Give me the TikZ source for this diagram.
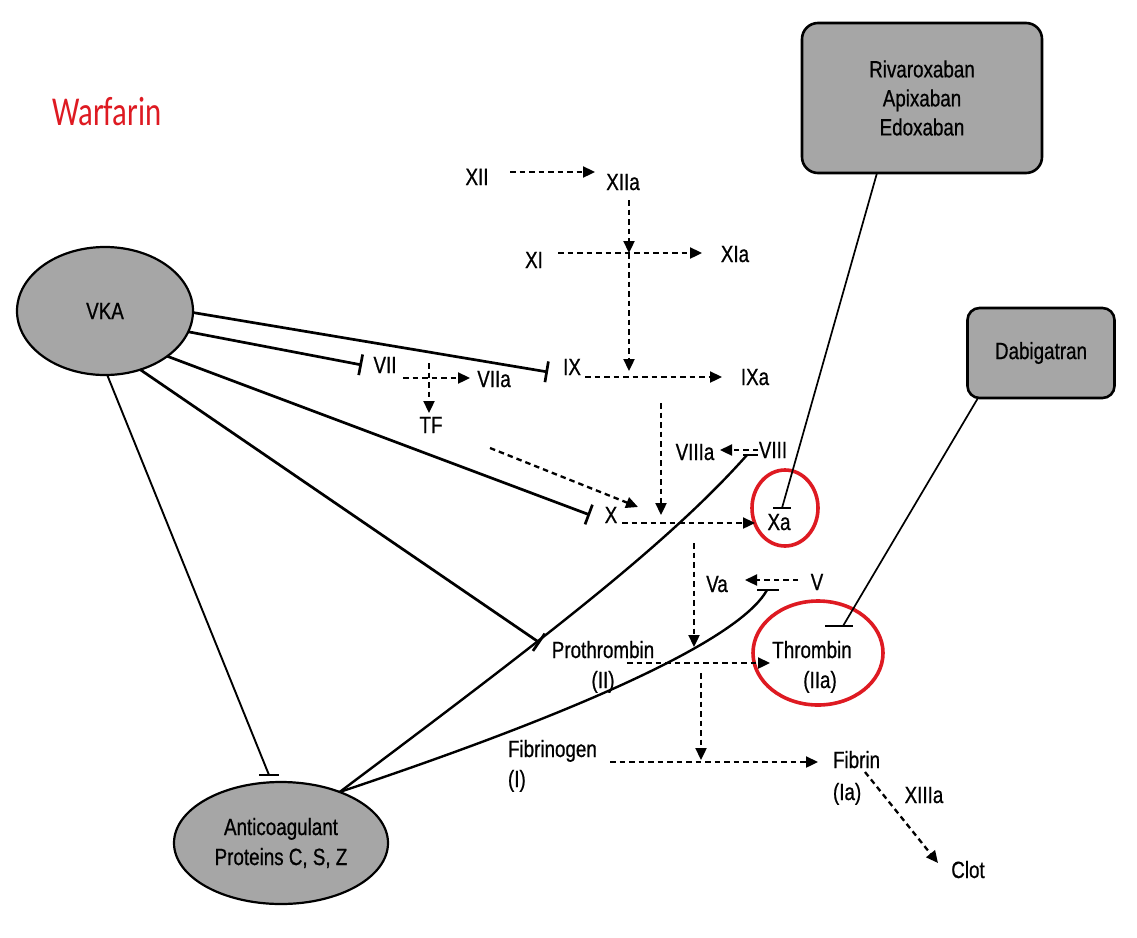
\documentclass[tikz,border=0pt]{standalone}
\usepackage{fontspec}
\setmainfont[FakeStretch=0.8,FakeBold=0.7]{Liberation Sans}
\newfontfamily\warffont[FakeStretch=0.75]{Carlito}
\usetikzlibrary{arrows.meta,shapes.geometric,calc}
\definecolor{shade}{RGB}{166,166,166}
\definecolor{alert}{RGB}{222,26,34}

\begin{document}
\begin{tikzpicture}[x=1pt,y=-1pt,
  every node/.style={inner sep=0pt, outer sep=0pt},
  lbl/.style={font=\fontsize{23.5}{29}\selectfont, anchor=base},
  lblw/.style={font=\fontsize{23.5}{29}\selectfont, anchor=base west},
  drug/.style={draw, line width=2.6pt, fill=shade, rounded corners=16pt, align=center, font=\fontsize{23.5}{29}\selectfont},
  agent/.style={ellipse, draw, line width=2.2pt, fill=shade, align=center, font=\fontsize{23.5}{30}\selectfont},
  ring/.style={ellipse, draw=alert, line width=3.6pt},
  flow/.style={line width=2.3pt, dash pattern=on 5.5pt off 4pt, -{Triangle[length=12pt,width=11pt]}},
  inhib/.style={line width=2.7pt, -{Bar[width=21pt]}},
  link/.style={line width=2.4pt},
  thinlink/.style={line width=1.7pt}
]
\useasboundingbox (0,0) rectangle (1137,937);
\fill[white] (0,0) rectangle (1137,937);

% title
\node[font=\warffont\fontsize{41}{41}\selectfont, text=alert, anchor=base west] (warf) at (52,125) {Warfarin};

% drugs and agents
\node[drug, minimum width=240pt, minimum height=150pt] (riva) at (922,98) {Rivaroxaban\\Apixaban\\Edoxaban};
\node[drug, rounded corners=12pt, minimum width=147pt, minimum height=90pt] (dabi) at (1041,353) {Dabigatran};
\node[agent, minimum width=176pt, minimum height=128pt] (vka) at (105,311) {VKA};
\node[agent, minimum width=214pt, minimum height=122pt] (anti) at (281,843) {Anticoagulant\\Proteins C, S, Z};

% highlighted targets
\node[ring, minimum width=66pt, minimum height=76pt] (xaring) at (785,508) {};
\node[ring, minimum width=130pt, minimum height=104pt] (thrring) at (818,653) {};

% coagulation factors
\node[lbl] (xii) at (477,185) {XII};
\node[lbl] (xiia) at (623,190) {XIIa};
\node[lbl] (xi) at (534,268) {XI};
\node[lbl] (xia) at (735,262) {XIa};
\node[lbl] (ix) at (572,375) {IX};
\node[lbl] (ixa) at (755,385) {IXa};
\node[lbl] (vii) at (385,373) {VII};
\node[lbl] (viia) at (494,387) {VIIa};
\node[lbl] (tf) at (431,433) {TF};
\node[lbl] (x) at (611,523) {X};
\node[lbl] (xa) at (779,530) {Xa};
\node[lbl] (viii) at (773,458) {VIII};
\node[lbl] (viiia) at (695,460) {VIIIa};
\node[lbl] (va) at (717,592) {Va};
\node[lbl] (v) at (817,590) {V};
\node[lbl] (proth) at (603,658) {Prothrombin};
\node[lbl] (prothii) at (603,688) {(II)};
\node[lbl] (thr) at (812,658) {Thrombin};
\node[lbl] (thrii) at (820,688) {(IIa)};
\node[lblw] (fibg) at (508,757) {Fibrinogen};
\node[lblw] (fibgi) at (508,787) {(I)};
\node[lblw] (fib) at (833,768) {Fibrin};
\node[lblw] (fibia) at (833,800) {(Ia)};
\node[lbl] (xiiia) at (924,803) {XIIIa};
\node[lbl] (clot) at (968,878) {Clot};

% activation cascade
\draw[flow] ($(xii.base)+(33,-13)$) -- ($(xiia.base)+(-28,-18)$);
\coordinate (j1) at ($(xi.base)+(95,-15)$);
\draw[flow] ($(xiia.base)+(6,10)$) -- (j1);
\draw[flow] (j1) -- ($(ix.base)+(57,-4)$);
\draw[flow] ($(xi.base)+(24,-15)$) -- ($(xia.base)+(-33,-9)$);
\draw[flow] ($(ix.base)+(13,2)$) -- ($(ixa.base)+(-33,-8)$);
\draw[flow] ($(vii.base)+(18,5)$) -- ($(viia.base)+(-24,-9)$);
\draw[flow] ($(vii.base)+(44,-10)$) -- ($(tf.base)+(-2,-20)$);
\coordinate (tfx) at (490,448);
\draw[flow] (tfx) -- ($(x.base)+(27,-16)$);
\coordinate (tenase) at (661,403);
\draw[flow] (tenase) -- ($(x.base)+(50,-8)$);
\draw[flow] ($(x.base)+(11,0)$) -- ($(xa.base)+(-24,-7)$);
\draw[flow] ($(viii.base)+(-15,-8)$) -- ($(viiia.base)+(25,-10)$);
\draw[flow] ($(x.base)+(83,20)$) -- ($(proth.base)+(91,-11)$);
\draw[flow] ($(v.base)+(-19,-10)$) -- ($(va.base)+(28,-12)$);
\draw[flow] ($(proth.base)+(24,5)$) -- ($(thr.base)+(-42,5)$);
\draw[flow] ($(proth.base)+(98,15)$) -- ($(fibg.base west)+(193,3)$);
\draw[flow] ($(fibg.base west)+(102,5)$) -- ($(fib.base west)+(-15,-6)$);
\draw[flow] ($(fib.base west)+(32,4)$) -- ($(clot.base)+(-30,-15)$);

% vitamin K antagonist inhibition
\draw[inhib] (vka.-1) -- ($(ix.base)+(-24,-3)$);
\draw[inhib] (vka.-14) -- ($(vii.base)+(-23,-8)$);
\draw[inhib] (vka.-36) -- ($(x.base)+(-21,-8)$);
\draw[inhib] (vka.-59) -- ($(proth.base)+(-63,-15)$);
\coordinate (antibar) at ($(anti.north)+(-12,-7)$);
\draw[line width=1.9pt] (vka.-88) -- (antibar);
\draw[link] ($(antibar)+(-10,0)$) -- ($(antibar)+(10,0)$);

% direct inhibitors
\coordinate (xabar) at ($(xa.base)+(3,-22)$);
\draw[thinlink] ([xshift=-45pt]riva.south) -- (xabar);
\draw[link] ($(xabar)+(-9,0)$) -- ($(xabar)+(9,0)$);
\coordinate (thrbar) at ($(thr.base)+(31,-32)$);
\draw[thinlink] ([xshift=-63pt]dabi.south) -- (thrbar);
\draw[link] ($(thrbar)+(-18,0)$) -- ($(thrbar)+(10,0)$);

% anticoagulant proteins acting on cofactors VIII and V
\coordinate (viiibar) at ($(viii.base)+(-26,-3)$);
\draw[link] (anti.41) .. controls (542,640) and (667,545) .. (viiibar);
\draw[link] ($(viiibar)+(-4,0)$) -- ($(viiibar)+(11,0)$);
\coordinate (vbar) at ($(v.base)+(-50,0)$);
\draw[link] (anti.41) .. controls (630,695) and (745,630) .. (vbar);
\draw[link] ($(vbar)+(-10,0)$) -- ($(vbar)+(12,0)$);
\end{tikzpicture}
\end{document}
